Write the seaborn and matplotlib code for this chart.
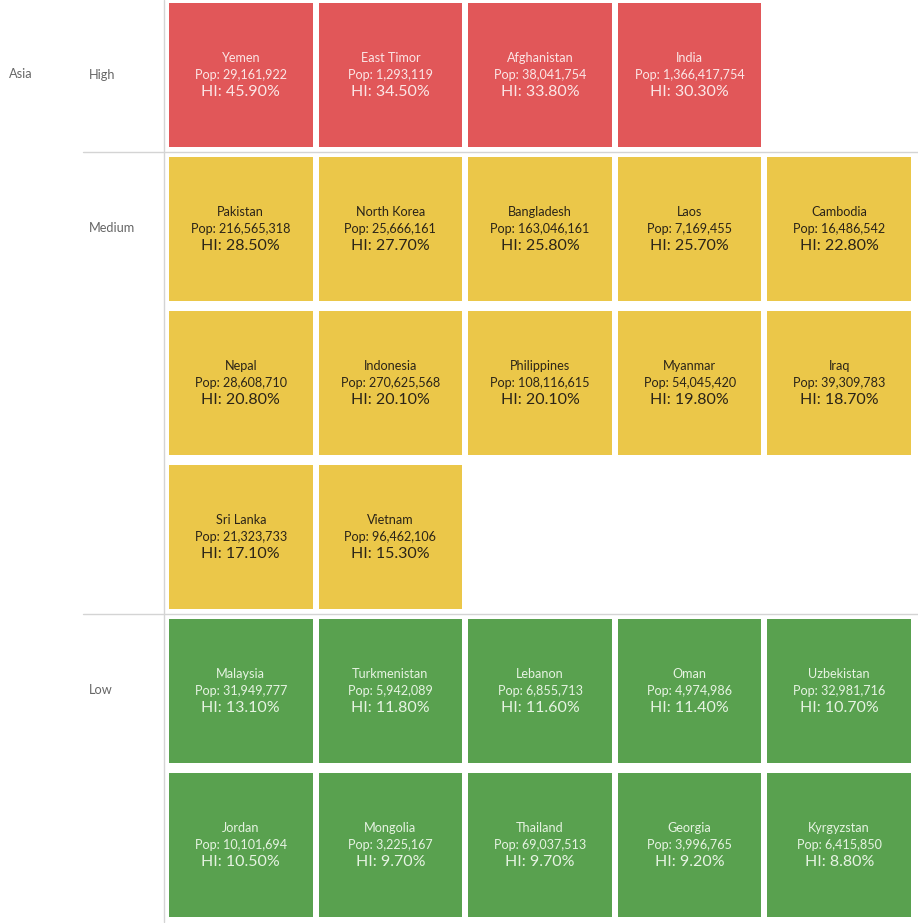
import numpy as np
import matplotlib
matplotlib.use("Agg")
import matplotlib.pyplot as plt
from matplotlib.colors import ListedColormap
import seaborn as sns

# hunger index tiles, Asia, read row by row
countries = [
    "Yemen", "East Timor", "Afghanistan", "India",
    "Pakistan", "North Korea", "Bangladesh", "Laos", "Cambodia",
    "Nepal", "Indonesia", "Philippines", "Myanmar", "Iraq",
    "Sri Lanka", "Vietnam",
    "Malaysia", "Turkmenistan", "Lebanon", "Oman", "Uzbekistan",
    "Jordan", "Mongolia", "Thailand", "Georgia", "Kyrgyzstan",
]
population = [
    29161922, 1293119, 38041754, 1366417754,
    216565318, 25666161, 163046161, 7169455, 16486542,
    28608710, 270625568, 108116615, 54045420, 39309783,
    21323733, 96462106,
    31949777, 5942089, 6855713, 4974986, 32981716,
    10101694, 3225167, 69037513, 3996765, 6415850,
]
hunger_index = [
    45.9, 34.5, 33.8, 30.3,
    28.5, 27.7, 25.8, 25.7, 22.8,
    20.8, 20.1, 20.1, 19.8, 18.7,
    17.1, 15.3,
    13.1, 11.8, 11.6, 11.4, 10.7,
    10.5, 9.7, 9.7, 9.2, 8.8,
]
levels = ["High", "Medium", "Low"]
level_of = ["High"] * 4 + ["Medium"] * 12 + ["Low"] * 10

N_COLS = 5
level_colors = {"High": "#E15759", "Medium": "#EBC749", "Low": "#59A14F"}
text_colors = {"High": "#FBE6E6", "Medium": "#2B2418", "Low": "#E6F3E2"}

# lay tiles out in a grid, each level starting a new row
grid = np.full((6, N_COLS), np.nan)
cells = []
row = 0
for lv_i, lv in enumerate(levels):
    idx = [i for i, l in enumerate(level_of) if l == lv]
    lv_rows = []
    for k, i in enumerate(idx):
        r = row + k // N_COLS
        c = k % N_COLS
        grid[r, c] = lv_i
        cells.append((r, c, i))
        if r not in lv_rows:
            lv_rows.append(r)
    row += len(lv_rows)
    if lv == "High":
        high_end = row
    elif lv == "Medium":
        med_end = row

W, H = 918, 923
fig = plt.figure(figsize=(W / 100, H / 100), dpi=100)
sns.set_style("white")
plt.rcParams["font.family"] = ["Lato", "DejaVu Sans"]

# axes in pixel geometry: cell pitch 149.6 x 154
left, right, top, bottom = 166, 914, 0, 922
ax = fig.add_axes([left / W, 1 - bottom / H, (right - left) / W, (bottom - top) / H])

cmap = ListedColormap([level_colors[l] for l in levels])
sns.heatmap(grid, mask=np.isnan(grid), cmap=cmap, vmin=-0.5, vmax=2.5,
            cbar=False, ax=ax, xticklabels=False, yticklabels=False)
ax.set_ylim(6, 2 / 154)

# white gutters between tiles (6px between columns, 10px between rows)
for x in range(0, N_COLS + 1):
    ax.axvline(x, color="white", lw=6 * 0.72, clip_on=False, zorder=3)
for y in range(0, grid.shape[0] + 1):
    ax.axhline(y, color="white", lw=10 * 0.72, clip_on=False, zorder=3)
# top gutter sits partly above the axes
ax.axhspan(2 / 154, 5 / 154, color="white", lw=0, zorder=3)

for r, c, i in cells:
    tc = text_colors[level_of[i]]
    cx, cy = c + 0.5, r + 0.5
    ax.text(cx, cy - 0.112, countries[i], ha="center", va="center",
            fontsize=9.1, color=tc, zorder=4)
    ax.text(cx, cy - 0.003, f"Pop: {population[i]:,}", ha="center",
            va="center", fontsize=9.1, color=tc, zorder=4)
    ax.text(cx, cy + 0.108, f"HI: {hunger_index[i]:.2f}%", ha="center",
            va="center", fontsize=11.5, color=tc, zorder=4)

# group separators and row header divider
sep_col = "#D4D4D4"
xmin = (83 - left) / (right - left)
xmax = (918 - left) / (right - left)
for y in [high_end, med_end]:
    ax.axhline(y, xmin=xmin, xmax=xmax, color=sep_col, lw=1, clip_on=False, zorder=4)
ax.axvline(-(166 - 163.5) / 149.6, color=sep_col, lw=1, clip_on=False, zorder=4)

for s in ax.spines.values():
    s.set_visible(False)

# row headers
lab_col = "#666666"
fig.text(9 / W, 1 - 74 / H, "Asia", ha="left", va="center", fontsize=9.2, color=lab_col)
fig.text(89 / W, 1 - 75 / H, "High", ha="left", va="center", fontsize=9.2, color=lab_col)
fig.text(89 / W, 1 - 228 / H, "Medium", ha="left", va="center", fontsize=9.2, color=lab_col)
fig.text(89 / W, 1 - 690 / H, "Low", ha="left", va="center", fontsize=9.2, color=lab_col)

fig.savefig("out.png", dpi=100)
